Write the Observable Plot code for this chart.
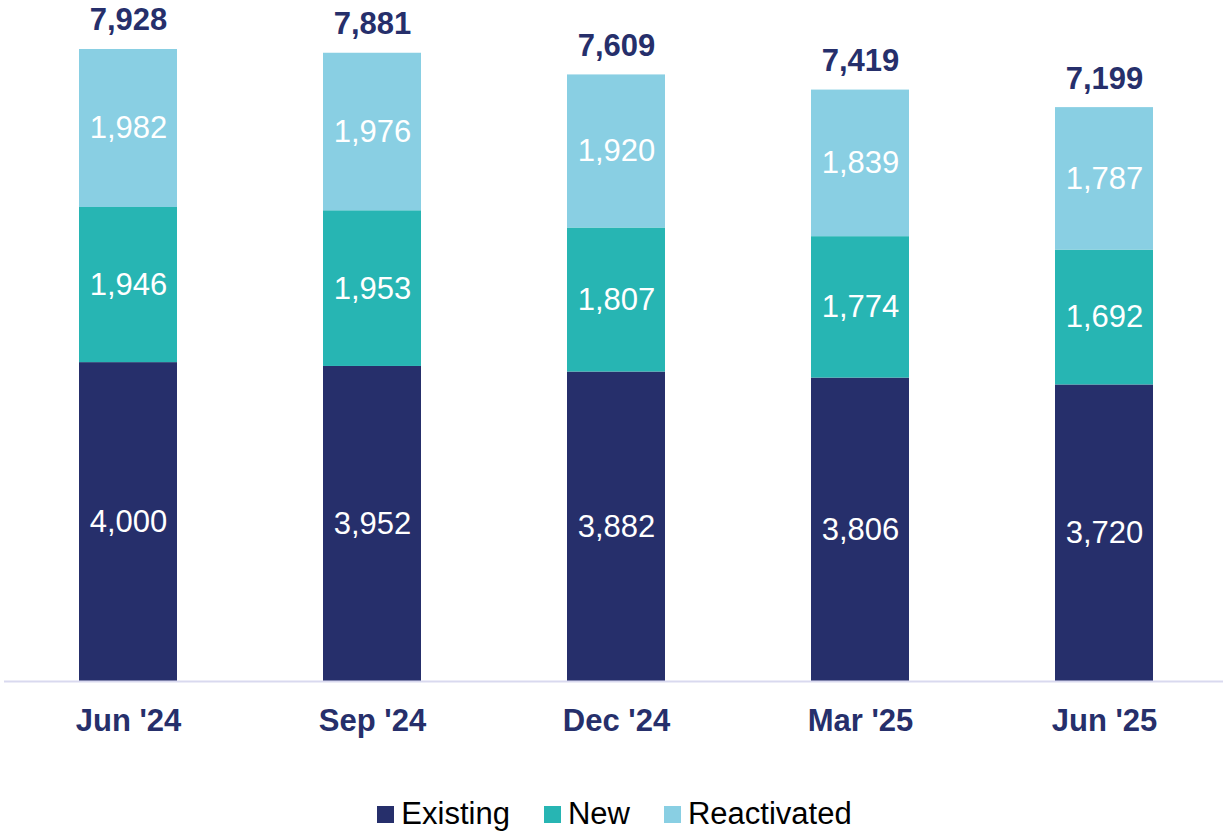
<!DOCTYPE html>
<html>
<head>
<meta charset="utf-8">
<script src="https://cdn.jsdelivr.net/npm/d3@7"></script>
<script src="https://cdn.jsdelivr.net/npm/@observablehq/plot@0.6"></script>
<style>
  body { margin: 0; background: #fff; font-family: "Liberation Sans", Arial, sans-serif; }
  #legend { display: flex; justify-content: center; align-items: center; font-size: 31px; color: #000; height: 72px; padding-top: 36px; padding-left: 6px; box-sizing: border-box; }
  #legend .item { display: flex; align-items: center; margin: 0 17px; }
  #legend .sw { width: 17px; height: 17px; margin-right: 7px; }
</style>
</head>
<body>
<div id="chart"></div>
<div id="legend"></div>
<script>
const quarters = ["Jun '24", "Sep '24", "Dec '24", "Mar '25", "Jun '25"];
const segments = ["Existing", "New", "Reactivated"];
const existing = [4000, 3952, 3882, 3806, 3720];
const newVals = [1946, 1953, 1807, 1774, 1692];
const reactivated = [1982, 1976, 1920, 1839, 1787];
const totals = [7928, 7881, 7609, 7419, 7199];
const colors = ["#262f6b", "#27b5b3", "#89cfe3"];

const series = [existing, newVals, reactivated];
const rows = [];
quarters.forEach((q, i) => {
  segments.forEach((s, j) => rows.push({quarter: q, segment: s, value: series[j][i]}));
});
const totalRows = quarters.map((q, i) => ({quarter: q, total: totals[i]}));
const fmt = d3.format(",");

const chart = Plot.plot({
  width: 1223,
  height: 760,
  marginTop: 49,
  marginBottom: 79,
  marginLeft: 4,
  marginRight: 0,
  style: {fontFamily: "'Liberation Sans', Arial, sans-serif", background: "#fff"},
  x: {domain: quarters, range: [3.6, 1227.4], paddingInner: 0.6, paddingOuter: 0.3, label: null, tickSize: 0, tickPadding: 0},
  y: {domain: [0, d3.max(totals)], axis: null},
  color: {domain: segments, range: colors},
  marks: [
    Plot.barY(rows, {x: "quarter", y: "value", fill: "segment", order: segments}),
    Plot.text(rows, Plot.stackY({x: "quarter", y: "value", z: "segment", order: segments, text: d => fmt(d.value), fill: "#fff", fontSize: 31})),
    Plot.text(totalRows, {x: "quarter", y: "total", text: d => fmt(d.total), dy: -29, fill: "#262f6b", fontSize: 31, fontWeight: "bold"}),
    Plot.ruleY([0], {stroke: "#d9d9ef", strokeWidth: 2}),
    Plot.axisX({tickSize: 0, dy: 27, fontSize: 31, fontWeight: "bold", fill: "#262f6b", label: null, tickPadding: 0})
  ]
});
document.getElementById("chart").appendChild(chart);

const legend = document.getElementById("legend");
segments.forEach((s, i) => {
  const item = document.createElement("div");
  item.className = "item";
  const sw = document.createElement("div");
  sw.className = "sw";
  sw.style.background = colors[i];
  const t = document.createElement("span");
  t.textContent = s;
  item.appendChild(sw); item.appendChild(t);
  legend.appendChild(item);
});
</script>
</body>
</html>
